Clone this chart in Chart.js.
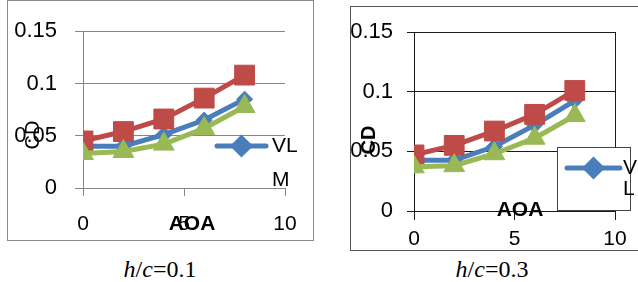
<!DOCTYPE html>
<html>
<head>
<meta charset="utf-8">
<script src="https://cdn.jsdelivr.net/npm/chart.js@4.4.0/dist/chart.umd.min.js"></script>
<style>
  body { margin: 0; width: 638px; height: 282px; background: #fff; position: relative; overflow: hidden; }
  .frame { position: absolute; box-sizing: border-box; }
  #frameA { left: 7px; top: 0; width: 307px; height: 241px; border: 1px solid #8a8a8a; }
  #frameB { left: 350px; top: 6px; width: 400px; height: 245px; border: 1px solid #555; }
  .cv { position: absolute; top: 0; }
  #chartA { left: 0; }
  #chartB { left: 330px; }
  .caption { position: absolute; top: 257px; width: 160px; text-align: center;
             font: 24px/24px "Liberation Serif", "Times New Roman", serif; color: #000; }
  .caption i { font-style: italic; }
</style>
</head>
<body>
<div class="frame" id="frameA"></div>
<div class="frame" id="frameB"></div>
<canvas class="cv" id="chartA" width="320" height="250"></canvas>
<canvas class="cv" id="chartB" width="308" height="250"></canvas>
<div class="caption" style="left:80px"><i>h</i>/<i>c</i>=0.1</div>
<div class="caption" style="left:412px"><i>h</i>/<i>c</i>=0.3</div>

<script>
// 數據
const aoa = [0, 2, 4, 6, 8];
const xTickLabels = ['0', '5', '10'];
const yTickLabels = ['0', '0.05', '0.1', '0.15'];

// h/c = 0.1
const vlm01 = [0.040, 0.040, 0.051, 0.065, 0.085];
const redSeries01 = [0.045, 0.054, 0.066, 0.086, 0.108];
const greenSeries01 = [0.033, 0.035, 0.042, 0.057, 0.078];

// h/c = 0.3
const vlm03 = [0.0425, 0.0425, 0.054, 0.072, 0.0925];
const redSeries03 = [0.047, 0.055, 0.067, 0.081, 0.101];
const greenSeries03 = [0.037, 0.038, 0.048, 0.061, 0.080];

const BLUE = '#4A7EBB';
const RED = '#BE4B48';
const GREEN = '#98B954';
const FONT = '"Liberation Sans", Arial, sans-serif';

function pts(ys) {
    return aoa.map((x, i) => ({ x: x, y: ys[i] }));
}

// 自訂圖例與軸標題
const overlayText = {
    id: 'overlayText',
    afterDraw(chart, args, o) {
        const ctx = chart.ctx;
        const ds = chart.data.datasets[0];
        ctx.save();

        const lg = o.legend;
        if (lg.box) {
            ctx.fillStyle = '#fff';
            ctx.fillRect(lg.box[0], lg.box[1], lg.box[2], lg.box[3]);
            ctx.strokeStyle = '#444';
            ctx.lineWidth = 1;
            ctx.strokeRect(lg.box[0] + 0.5, lg.box[1] + 0.5, lg.box[2], lg.box[3]);
        }
        ctx.strokeStyle = ds.borderColor;
        ctx.lineWidth = 5;
        ctx.lineCap = 'round';
        ctx.beginPath();
        ctx.moveTo(lg.x1, lg.y);
        ctx.lineTo(lg.x2, lg.y);
        ctx.stroke();
        Chart.helpers.drawPoint(ctx, { pointStyle: 'rectRot', radius: 8, borderWidth: 1 },
            (lg.x1 + lg.x2) / 2, lg.y);
        ctx.fillStyle = ds.borderColor;
        ctx.fill();

        ctx.fillStyle = '#000';
        ctx.font = '21px ' + FONT;
        ctx.textAlign = 'left';
        ctx.textBaseline = 'middle';
        const label = ds.label;
        ctx.fillText(label.slice(0, lg.wrap), lg.tx, lg.y);
        ctx.fillText(label.slice(lg.wrap, lg.wrap * 2), lg.tx, lg.ty2);

        // AOA
        ctx.font = 'bold 21px ' + FONT;
        ctx.textAlign = 'center';
        ctx.fillText('AOA', o.xTitle[0], o.xTitle[1]);

        // CD
        ctx.translate(o.yTitle[0], o.yTitle[1]);
        ctx.rotate(-Math.PI / 2);
        ctx.font = (o.yBold ? 'bold ' : '') + '20px ' + FONT;
        ctx.fillText('CD', 0, 0);
        ctx.restore();
    }
};

function makeChart(id, series, cfg) {
    const [blue, red, green] = series;
    new Chart(document.getElementById(id), {
        type: 'line',
        data: {
            datasets: [
                {
                    label: 'VLM', data: pts(blue), order: 3,
                    borderColor: BLUE, backgroundColor: BLUE, borderWidth: 5,
                    pointStyle: 'rectRot', pointRadius: 8, pointBorderWidth: 1
                },
                {
                    label: 'Series 2', data: pts(red), order: 2,
                    borderColor: RED, backgroundColor: RED, borderWidth: 5,
                    pointStyle: 'rect', pointRadius: 14, pointBorderWidth: 1
                },
                {
                    label: 'Series 3', data: pts(green), order: 1,
                    borderColor: GREEN, backgroundColor: GREEN, borderWidth: 5,
                    pointStyle: 'triangle', pointRadius: 12, pointBorderWidth: 1
                }
            ]
        },
        options: {
            responsive: false,
            animation: false,
            tension: 0,
            layout: { padding: cfg.padding },
            plugins: {
                legend: { display: false },
                tooltip: { enabled: false },
                overlayText: cfg.overlay
            },
            scales: {
                x: {
                    type: 'linear', min: 0, max: 10,
                    afterFit(s) { s.height = cfg.xHeight; },
                    afterBuildTicks(s) { s.ticks = xTickLabels.map(t => ({ value: Number(t) })); },
                    ticks: {
                        callback: (v) => xTickLabels[xTickLabels.indexOf(String(v))],
                        font: { size: 21, family: FONT }, color: '#000',
                        padding: cfg.xPad, maxRotation: 0
                    },
                    grid: { drawOnChartArea: false, tickLength: cfg.xTick, color: cfg.gridColor },
                    border: { color: cfg.gridColor }
                },
                y: {
                    min: 0, max: 0.15,
                    afterFit(s) { s.width = cfg.yWidth; },
                    afterBuildTicks(s) { s.ticks = yTickLabels.map(t => ({ value: Number(t) })); },
                    ticks: {
                        callback: (v) => yTickLabels.find(t => Math.abs(Number(t) - v) < 1e-9),
                        font: { size: 22, family: FONT }, color: '#000',
                        padding: cfg.yPad
                    },
                    grid: { tickLength: cfg.yTick, color: cfg.gridColor },
                    border: { color: cfg.gridColor }
                },
                y2: {
                    display: cfg.rightBorder, position: 'right', min: 0, max: 0.15,
                    afterFit(s) { s.width = 0; },
                    ticks: { display: false },
                    grid: { display: false },
                    border: { display: true, color: cfg.gridColor }
                }
            }
        },
        plugins: [overlayText]
    });
}

makeChart('chartA', [vlm01, redSeries01, greenSeries01], {
    padding: { left: 0, top: 23, right: 35, bottom: 0 },
    yWidth: 83, xHeight: 62,
    xTick: 8, yTick: 8, xPad: 16, yPad: 18,
    gridColor: '#878787',
    rightBorder: false,
    overlay: {
        legend: { x1: 217, x2: 266, y: 146, tx: 272, ty2: 180, wrap: 2 },
        xTitle: [192, 224],
        yTitle: [33, 135],
        yBold: false
    }
});

makeChart('chartB', [vlm03, redSeries03, greenSeries03], {
    padding: { left: 0, top: 32, right: 23, bottom: 0 },
    yWidth: 84, xHeight: 39,
    xTick: 9, yTick: 7, xPad: 7, yPad: 14,
    gridColor: '#1a1a1a',
    rightBorder: true,
    overlay: {
        legend: { x1: 237, x2: 290, y: 168, tx: 293, ty2: 189, wrap: 1, box: [227, 147, 73, 63] },
        xTitle: [190, 210],
        yTitle: [39, 140],
        yBold: true
    }
});
</script>
</body>
</html>
